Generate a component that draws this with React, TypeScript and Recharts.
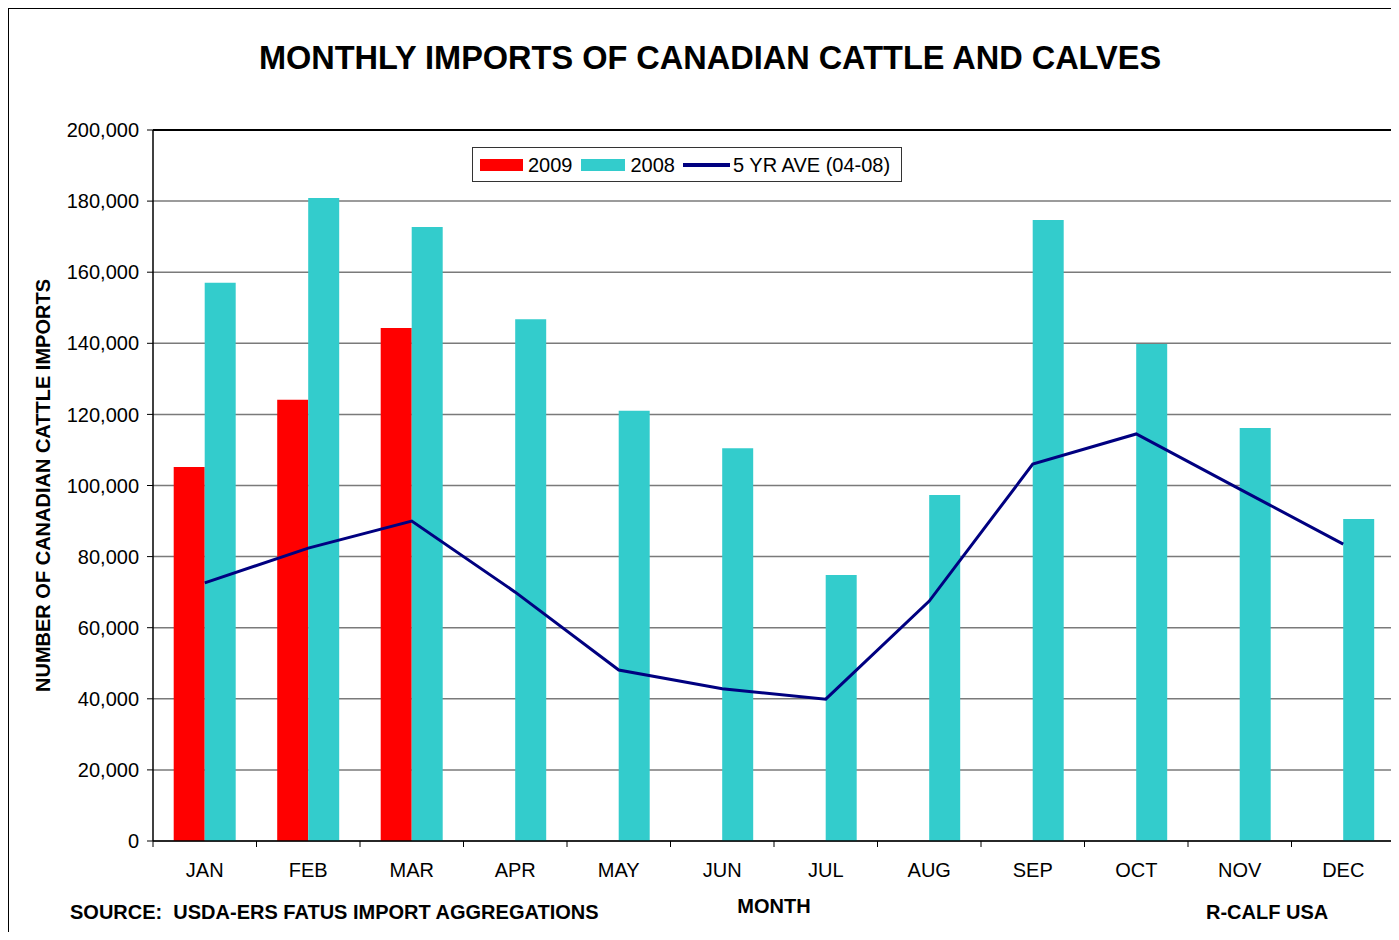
import { ComposedChart, Bar, Line, XAxis, YAxis, CartesianGrid, Legend, Label, ReferenceLine } from 'recharts';

const FONT = '"Liberation Sans", Arial, Helvetica, sans-serif';

const months = ['JAN', 'FEB', 'MAR', 'APR', 'MAY', 'JUN', 'JUL', 'AUG', 'SEP', 'OCT', 'NOV', 'DEC'];
const imports2009 = [105200, 124100, 144300, null, null, null, null, null, null, null, null, null];
const imports2008 = [157000, 180900, 172700, 146800, 121000, 110500, 74800, 97300, 174700, 139800, 116200, 90600];
const fiveYearAve = [72600, 82400, 90000, 70000, 48100, 42800, 39900, 67500, 106000, 114500, 99000, 83500];
const yTicks = [0, 20000, 40000, 60000, 80000, 100000, 120000, 140000, 160000, 180000, 200000];

const data = months.map((m, i) => ({
  month: m,
  y2009: imports2009[i],
  y2008: imports2008[i],
  ave: fiveYearAve[i],
}));

// plot is 1242px wide, 12 months
const BAND = 1242 / 12;

function MonthTick(props: any) {
  const { x, y, payload, index } = props;
  return (
    <g>
      <line x1={x - BAND / 2} y1={y} x2={x - BAND / 2} y2={y + 6} stroke="#000" />
      {index === months.length - 1 && (
        <line x1={x + BAND / 2} y1={y} x2={x + BAND / 2} y2={y + 6} stroke="#000" />
      )}
      <text x={x} y={y + 36} textAnchor="middle" fontSize={20} fill="#000" fontFamily={FONT}>
        {payload.value}
      </text>
    </g>
  );
}

function LegendBox() {
  const item = { display: 'flex', alignItems: 'center' } as const;
  return (
    <div
      style={{
        border: '1px solid #333',
        background: '#fff',
        height: 33,
        width: 421,
        display: 'flex',
        alignItems: 'center',
        paddingLeft: 7,
        fontFamily: FONT,
        fontSize: 20,
        lineHeight: '20px',
        color: '#000',
        boxSizing: 'content-box',
      }}
    >
      <div style={item}>
        <span style={{ display: 'inline-block', width: 43, height: 12, background: '#FF0000', marginRight: 5 }} />
        <span>2009</span>
      </div>
      <div style={{ ...item, marginLeft: 8 }}>
        <span style={{ display: 'inline-block', width: 44, height: 12, background: '#33CCCC', marginRight: 6 }} />
        <span>2008</span>
      </div>
      <div style={{ ...item, marginLeft: 8 }}>
        <span style={{ display: 'inline-block', width: 47, height: 4, background: '#000080', marginRight: 3 }} />
        <span>5 YR AVE (04-08)</span>
      </div>
    </div>
  );
}

export default function App() {
  return (
    <div
      style={{
        position: 'relative',
        width: 1390,
        height: 931,
        marginBottom: -8,
        borderLeft: '1px solid #000',
        borderTop: '1px solid #000',
        overflow: 'hidden',
        background: '#fff',
        fontFamily: FONT,
      }}
    >
      <div
        style={{
          position: 'absolute',
          left: 0,
          top: 31,
          width: 1402,
          textAlign: 'center',
          fontSize: 32.5,
          fontWeight: 'bold',
          color: '#000',
        }}
      >
        MONTHLY IMPORTS OF CANADIAN CATTLE AND CALVES
      </div>

      <ComposedChart
        width={1390}
        height={931}
        data={data}
        margin={{ top: 121, right: 4, bottom: 0, left: 0 }}
        barCategoryGap="20%"
        barGap={0}
        style={{ position: 'absolute', left: 0, top: 0 }}
      >
        <CartesianGrid vertical={false} stroke="#7a7a7a" strokeWidth={1.5} />
        <XAxis
          dataKey="month"
          height={99}
          tickSize={0}
          tickMargin={0}
          tickLine={false}
          axisLine={{ stroke: '#000', strokeWidth: 1.5 }}
          tick={<MonthTick />}
          interval={0}
        >
          <Label
            value="MONTH"
            position="insideBottom"
            offset={27}
            style={{ fontSize: 20, fontWeight: 'bold', fill: '#000', fontFamily: FONT }}
          />
        </XAxis>
        <YAxis
          width={144}
          domain={[0, 200000]}
          ticks={yTicks}
          interval={0}
          tickSize={6}
          tickMargin={8}
          tickFormatter={(v: number) => v.toLocaleString('en-US')}
          tick={{ fontSize: 20, fill: '#000', fontFamily: FONT }}
          tickLine={{ stroke: '#000' }}
          axisLine={{ stroke: '#000', strokeWidth: 1.5 }}
        >
          <Label
            value="NUMBER OF CANADIAN CATTLE IMPORTS"
            angle={-90}
            position="center"
            dx={-38}
            style={{ fontSize: 20, fontWeight: 'bold', fill: '#000', fontFamily: FONT }}
          />
        </YAxis>
        <YAxis
          yAxisId="frame"
          orientation="right"
          width={0}
          domain={[0, 200000]}
          tick={false}
          tickLine={false}
          axisLine={{ stroke: '#808080', strokeWidth: 2 }}
        />
        <ReferenceLine y={200000} stroke="#000" strokeWidth={2} />
        <Bar dataKey="y2009" name="2009" fill="#FF0000" isAnimationActive={false} />
        <Bar dataKey="y2008" name="2008" fill="#33CCCC" isAnimationActive={false} />
        <Line
          type="linear"
          dataKey="ave"
          name="5 YR AVE (04-08)"
          stroke="#000080"
          strokeWidth={3}
          dot={false}
          isAnimationActive={false}
        />
        <Legend
          layout="horizontal"
          verticalAlign="middle"
          align="center"
          content={() => <LegendBox />}
          wrapperStyle={{ position: 'absolute', left: 463, top: 138, width: 430, height: 35 }}
        />
      </ComposedChart>

      <div style={{ position: 'absolute', left: 61, top: 892, fontSize: 20, fontWeight: 'bold', color: '#000', whiteSpace: 'pre' }}>
        {'SOURCE:  USDA-ERS FATUS IMPORT AGGREGATIONS'}
      </div>
      <div style={{ position: 'absolute', left: 1197, top: 892, fontSize: 20, fontWeight: 'bold', color: '#000' }}>
        R-CALF USA
      </div>
    </div>
  );
}
